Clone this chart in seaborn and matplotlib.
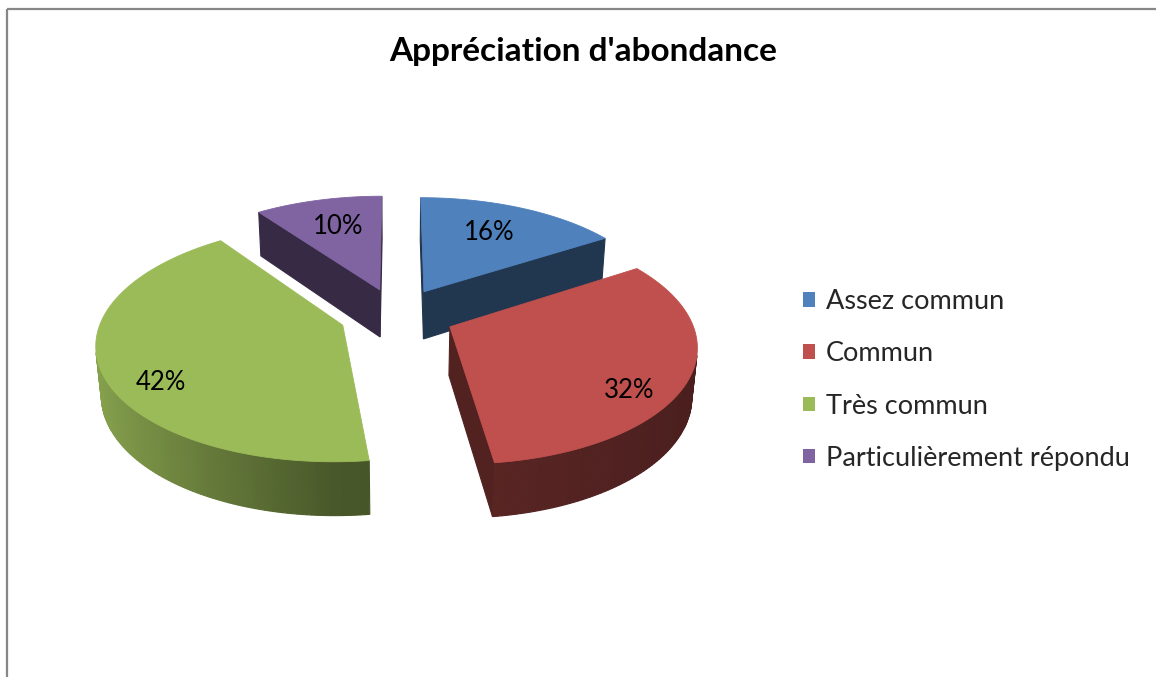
import numpy as np
import matplotlib
matplotlib.use("Agg")
import matplotlib.pyplot as plt
from matplotlib.patches import Polygon, Patch
import seaborn as sns

# Data
categories = ["Assez commun", "Commun", "Très commun", "Particulièrement répondu"]
shares = [16, 32, 42, 10]
pct_labels = ["16%", "32%", "42%", "10%"]
title = "Appréciation d'abondance"

sns.set_theme(style="white")
plt.rcParams["font.family"] = ["Lato", "DejaVu Sans"]
palette = sns.color_palette(["#4F81BD", "#C0504D", "#9BBB59", "#8064A2"])

W, H = 1156, 677
fig = plt.figure(figsize=(W / 100, H / 100), dpi=100)
ax = fig.add_axes([0, 0, 1, 1])
ax.set_xlim(0, W)
ax.set_ylim(H, 0)
ax.axis("off")

# Perspective view of a tilted disc (radius 1)
cx, cy = 397, 315
elev = np.radians(28.3)
dist = 6.13
focal = 240 * dist
thick = 0.232
explode = 0.24
cam = np.array([0.0, -dist * np.cos(elev), dist * np.sin(elev)])


def project(X, Y, Z):
    d = Y * np.cos(elev) - Z * np.sin(elev)
    s = focal / (dist + d)
    return cx + X * s, cy - (Y * np.sin(elev) + Z * np.cos(elev)) * s


def depth(X, Y, Z):
    return Y * np.cos(elev) - Z * np.sin(elev)


def side_shade(t):
    s = np.sin(t)
    return 0.47 - 0.41 * s if s < 0 else 0.47 - 0.09 * s


def shaded(color, k):
    return tuple(np.clip(np.array(color) * k, 0, 1))


# Slices run clockwise from 12 o'clock
bounds = np.concatenate([[0], np.cumsum(shares)]) / sum(shares) * 2 * np.pi
slices = []
for i, (t0, t1) in enumerate(zip(bounds[:-1], bounds[1:])):
    tm = (t0 + t1) / 2
    ox, oy = explode * np.sin(tm), explode * np.cos(tm)
    slices.append((depth(ox, oy, 0), i, t0, t1, tm, ox, oy))

for _, i, t0, t1, tm, ox, oy in sorted(slices, reverse=True):
    col = palette[i]
    faces = []
    # outer rim, split into narrow strips for shading
    n = max(8, int(np.degrees(t1 - t0) / 1.0))
    ts = np.linspace(t0, t1, n + 1)
    for ta, tb in zip(ts[:-1], ts[1:]):
        tc = (ta + tb) / 2
        P = np.array([ox + np.sin(tc), oy + np.cos(tc), -thick / 2])
        nrm = np.array([np.sin(tc), np.cos(tc), 0.0])
        if np.dot(nrm, cam - P) <= 0:
            continue
        pts = [project(ox + np.sin(ta), oy + np.cos(ta), 0),
               project(ox + np.sin(tb), oy + np.cos(tb), 0),
               project(ox + np.sin(tb), oy + np.cos(tb), -thick),
               project(ox + np.sin(ta), oy + np.cos(ta), -thick)]
        faces.append((depth(*P), pts, shaded(col, side_shade(tc))))
    # radial cut faces
    for t, nrm in ((t0, np.array([-np.cos(t0), np.sin(t0), 0.0])),
                   (t1, np.array([np.cos(t1), -np.sin(t1), 0.0]))):
        P = np.array([ox + 0.5 * np.sin(t), oy + 0.5 * np.cos(t), -thick / 2])
        if np.dot(nrm, cam - P) <= 0:
            continue
        pts = [project(ox, oy, 0),
               project(ox + np.sin(t), oy + np.cos(t), 0),
               project(ox + np.sin(t), oy + np.cos(t), -thick),
               project(ox, oy, -thick)]
        faces.append((depth(*P), pts, shaded(col, 0.42)))
    for _, pts, fc in sorted(faces, key=lambda f: -f[0]):
        ax.add_patch(Polygon(pts, closed=True, facecolor=fc, edgecolor=fc,
                             linewidth=0.8, antialiased=True))
    # top face
    arc = np.linspace(t0, t1, 120)
    top = [project(ox, oy, 0)] + [project(ox + np.sin(a), oy + np.cos(a), 0) for a in arc]
    ax.add_patch(Polygon(top, closed=True, facecolor=col, edgecolor=col, linewidth=0.6))

    # percentage label
    front = np.cos(tm) < 0
    r = 0.77 if front else 0.65
    lz = -0.45 * thick if front else 0.05 * thick
    lx, ly = project(ox + r * np.sin(tm), oy + r * np.cos(tm), lz)
    ax.text(lx, ly, pct_labels[i], ha="center", va="center", fontsize=18.5, color="black")

# Title
ax.text(583, 52, title, ha="center", va="center", fontsize=24, fontweight="bold", color="black")

# Legend
handles = [Patch(facecolor=c, edgecolor="none") for c in palette]
ax.legend(handles, categories, loc="center left", bbox_to_anchor=(803, 380),
          bbox_transform=ax.transData, frameon=False, fontsize=19.5,
          handlelength=0.46, handleheight=0.46, handletextpad=0.38,
          labelspacing=1.0, borderaxespad=0, borderpad=0)

# Chart area frame (top and left edges)
ax.plot([7, 7], [9, H], color="#878787", lw=1.6, solid_capstyle="butt")
ax.plot([7, W], [9, 9], color="#878787", lw=1.6, solid_capstyle="butt")

fig.savefig("out.png", dpi=100)
